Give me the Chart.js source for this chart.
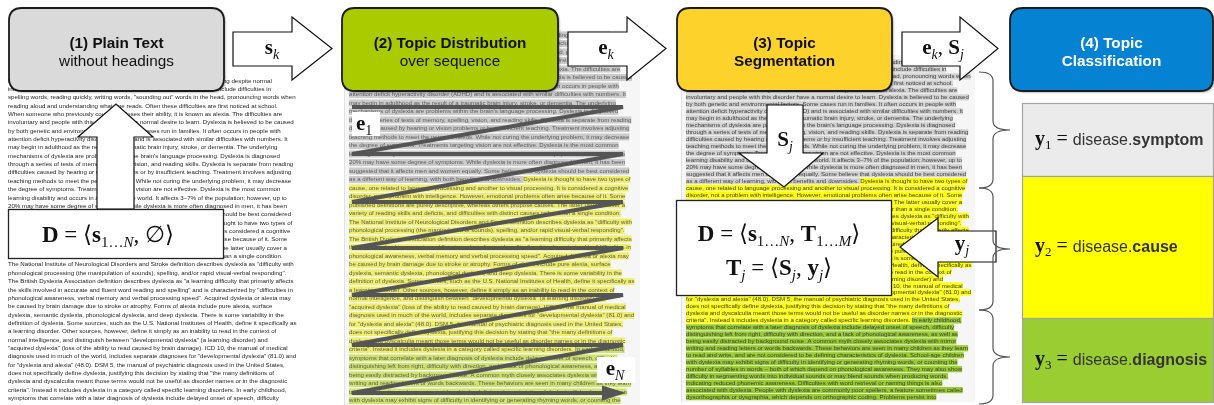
<!DOCTYPE html>
<html>
<head>
<meta charset="utf-8">
<title>Topic pipeline</title>
<script src="https://cdn.jsdelivr.net/npm/chart.js"></script>
<style>
  html, body { margin: 0; padding: 0; background: #fff; }
  #wrap { width: 1214px; height: 405px; }
</style>
</head>
<body>
<div id="wrap"><canvas id="diagram" width="1214" height="405"></canvas></div>
<script>
// stage headings
const stageTitles = ['(1) Plain Text', '(2) Topic Distribution', '(3) Topic', '(4) Topic'];
const stageSubtitles = ['without headings', 'over sequence', 'Segmentation', 'Classification'];
const stageSubBold = [false, false, true, true];
const stageColors = ['#dadada', '#a9cb00', '#fdd22a', '#0583d2'];
const stageTextColors = ['#111', '#111', '#111', '#fff'];

// topic classes, one per segment
const topicNames = ['symptom', 'cause', 'diagnosis'];
const topicColors = ['#ebebeb', '#ffff00', '#9acd32'];
const topicHighlight = ['#d4d4d4', '#ffff00', '#9acd32'];
const topicHighlightFaded = ['#cbcbcb', '#f0ef6a', '#cfe26c'];

// document, one entry per line, '|' = start of next segment
const docLines = [
  'Dyslexia, also known as reading disorder, is characterized by trouble with reading despite normal',
  'intelligence. Different people are affected to varying degrees. Problems may include difficulties in',
  'spelling words, reading quickly, writing words, "sounding out" words in the head, pronouncing words when',
  'reading aloud and understanding what one reads. Often these difficulties are first noticed at school.',
  'When someone who previously could read loses their ability, it is known as alexia. The difficulties are',
  'involuntary and people with this disorder have a normal desire to learn. Dyslexia is believed to be caused',
  'by both genetic and environmental factors. Some cases run in families. It often occurs in people with',
  'attention deficit hyperactivity disorder (ADHD) and is associated with similar difficulties with numbers. It',
  'may begin in adulthood as the result of a traumatic brain injury, stroke, or dementia. The underlying',
  'mechanisms of dyslexia are problems within the brain\'s language processing. Dyslexia is diagnosed',
  'through a series of tests of memory, spelling, vision, and reading skills. Dyslexia is separate from reading',
  'difficulties caused by hearing or vision problems or by insufficient teaching. Treatment involves adjusting',
  'teaching methods to meet the person\'s needs. While not curing the underlying problem, it may decrease',
  'the degree of symptoms. Treatments targeting vision are not effective. Dyslexia is the most common',
  'learning disability and occurs in all areas of the world. It affects 3–7% of the population; however, up to',
  '20% may have some degree of symptoms. While dyslexia is more often diagnosed in men, it has been',
  'suggested that it affects men and women equally. Some believe that dyslexia should be best considered',
  'as a different way of learning, with both benefits and downsides. |Dyslexia is thought to have two types of',
  'cause, one related to language processing and another to visual processing. It is considered a cognitive',
  'disorder, not a problem with intelligence. However, emotional problems often arise because of it. Some',
  'published definitions are purely descriptive, whereas others propose causes. The latter usually cover a',
  'variety of reading skills and deficits, and difficulties with distinct causes rather than a single condition.',
  'The National Institute of Neurological Disorders and Stroke definition describes dyslexia as "difficulty with',
  'phonological processing (the manipulation of sounds), spelling, and/or rapid visual-verbal responding".',
  'The British Dyslexia Association definition describes dyslexia as "a learning difficulty that primarily affects',
  'the skills involved in accurate and fluent word reading and spelling" and is characterized by "difficulties in',
  'phonological awareness, verbal memory and verbal processing speed". Acquired dyslexia or alexia may',
  'be caused by brain damage due to stroke or atrophy. Forms of alexia include pure alexia, surface',
  'dyslexia, semantic dyslexia, phonological dyslexia, and deep dyslexia. There is some variability in the',
  'definition of dyslexia. Some sources, such as the U.S. National Institutes of Health, define it specifically as',
  'a learning disorder. Other sources, however, define it simply as an inability to read in the context of',
  'normal intelligence, and distinguish between "developmental dyslexia" (a learning disorder) and',
  '"acquired dyslexia" (loss of the ability to read caused by brain damage). ICD 10, the manual of medical',
  'diagnosis used in much of the world, includes separate diagnoses for "developmental dyslexia" (81.0) and',
  'for "dyslexia and alexia" (48.0). DSM 5, the manual of psychiatric diagnosis used in the United States,',
  'does not specifically define dyslexia, justifying this decision by stating that "the many definitions of',
  'dyslexia and dyscalculia meant those terms would not be useful as disorder names or in the diagnostic',
  'criteria". Instead it includes dyslexia in a category called specific learning disorders. |In early childhood,',
  'symptoms that correlate with a later diagnosis of dyslexia include delayed onset of speech, difficulty',
  'distinguishing left from right, difficulty with direction, and a lack of phonological awareness, as well as',
  'being easily distracted by background noise. A common myth closely associates dyslexia with mirror',
  'writing and reading letters or words backwards. These behaviors are seen in many children as they learn',
  'to read and write, and are not considered to be defining characteristics of dyslexia. School-age children',
  'with dyslexia may exhibit signs of difficulty in identifying or generating rhyming words, or counting the',
  'number of syllables in words – both of which depend on phonological awareness. They may also show',
  'difficulty in segmenting words into individual sounds or may blend sounds when producing words,',
  'indicating reduced phonemic awareness. Difficulties with word retrieval or naming things is also',
  'associated with dyslexia. People with dyslexia are commonly poor spellers, a feature sometimes called',
  'dysorthographia or dysgraphia, which depends on orthographic coding. Problems persist into'
];

// reading order rows of the zigzag in panel 2 (y of each sweep)
const readingRows = [107, 154, 202, 248, 295, 345, 393];
const readingLeft = 352, readingRight = 604;

// segment braces and class boxes (y ranges)
const braceSpans = [[72, 188], [188, 310], [310, 404]];
const classBoxes = [[103, 176], [176, 318], [318, 402]];

const SERIF = '"Liberation Serif", "DejaVu Serif", serif';
const SANS = '"Liberation Sans", Arial, sans-serif';
const BIG = 'bold 23px ' + SERIF;
const REG = '23px ' + SERIF;
const SUBI = 'italic 15px ' + SERIF;

// bold vector symbol with subscript
function vec(letter, sub, italic, size) {
  size = size || 21;
  const s = Math.round(size * 0.66);
  return [
    { t: letter, f: 'bold ' + size + 'px ' + SERIF },
    { t: sub, f: (italic ? 'italic ' : '') + s + 'px ' + SERIF, dy: size * 0.22 }
  ];
}

function runsWidth(ctx, runs) {
  let w = 0;
  runs.forEach(r => { ctx.font = r.f; w += ctx.measureText(r.t).width; });
  return w;
}

function drawRuns(ctx, runs, x, y, align, color) {
  let cx = align === 'center' ? x - runsWidth(ctx, runs) / 2 : x;
  ctx.textBaseline = 'alphabetic';
  ctx.textAlign = 'left';
  runs.forEach(r => {
    ctx.font = r.f;
    ctx.fillStyle = r.c || color || '#111';
    ctx.fillText(r.t, cx, y + (r.dy || 0));
    cx += ctx.measureText(r.t).width;
  });
}

function roundRect(ctx, x, y, w, h, r) {
  ctx.beginPath();
  ctx.moveTo(x + r, y);
  ctx.lineTo(x + w - r, y);
  ctx.quadraticCurveTo(x + w, y, x + w, y + r);
  ctx.lineTo(x + w, y + h - r);
  ctx.quadraticCurveTo(x + w, y + h, x + w - r, y + h);
  ctx.lineTo(x + r, y + h);
  ctx.quadraticCurveTo(x, y + h, x, y + h - r);
  ctx.lineTo(x, y + r);
  ctx.quadraticCurveTo(x, y, x + r, y);
  ctx.closePath();
}

function polygon(ctx, pts) {
  ctx.beginPath();
  pts.forEach((p, i) => i ? ctx.lineTo(p[0], p[1]) : ctx.moveTo(p[0], p[1]));
  ctx.closePath();
  ctx.fillStyle = '#fff';
  ctx.fill();
  ctx.strokeStyle = '#111';
  ctx.lineWidth = 1.2;
  ctx.stroke();
}

const diagramPlugin = {
  id: 'diagram',
  beforeDatasetsDraw(chart) {
    const ctx = chart.ctx;
    const X = v => chart.scales.x.getPixelForValue(v);
    const Y = v => chart.scales.y.getPixelForValue(v);
    ctx.save();
    ctx.fillStyle = '#fff';
    ctx.fillRect(0, 0, chart.width, chart.height);

    // faint frames behind panel 2 and 3 text
    ctx.fillStyle = '#f6f6f6';
    ctx.fillRect(X(344), Y(30), X(640) - X(344), Y(405) - Y(30));
    ctx.fillRect(X(681), Y(55), X(975) - X(681), Y(402) - Y(55));
    ctx.strokeStyle = '#dde2e8';
    ctx.lineWidth = 1;
    ctx.beginPath();
    ctx.moveTo(X(344.5), Y(30)); ctx.lineTo(X(344.5), Y(405));
    ctx.moveTo(X(681.5), Y(55)); ctx.lineTo(X(681.5), Y(402));
    ctx.stroke();

    const drawDoc = (x0, y0, step, width, opts) => {
      ctx.font = '10px ' + SANS;
      const size = 10 * width / ctx.measureText(docLines[5]).width;
      ctx.font = (opts.weight || '') + ' ' + size.toFixed(2) + 'px ' + SANS;
      ctx.textBaseline = 'middle';
      ctx.textAlign = 'left';
      let seg = 0;
      docLines.forEach((line, i) => {
        const y = Y(y0 + i * step);
        if (y > chart.height + 6) return;
        let cx = X(x0);
        line.split('|').forEach((part, k) => {
          if (k > 0) seg++;
          const w = ctx.measureText(part).width;
          if (opts.hl) {
            ctx.fillStyle = opts.hl[seg];
            ctx.fillRect(cx, y - opts.h / 2, w, opts.h);
          }
          ctx.fillStyle = opts.color;
          ctx.fillText(part, cx, y + 0.3);
          cx += w;
        });
      });
    };

    // panel 1: plain text
    drawDoc(8, 80.5, 8.36, 286, { color: '#1e1e1e' });
    // panel 2: topic distribution (soft)
    ctx.save();
    ctx.filter = 'blur(0.45px)';
    drawDoc(349, 35, 8.5, 283, { color: '#5a5a5a', hl: topicHighlightFaded, h: 7 });
    ctx.restore();
    // panel 3: segmentation
    drawDoc(686, 62.5, 6.97, 283, { color: '#3a3a3a', hl: topicHighlight, h: 6.2 });
    ctx.restore();
  },
  afterDatasetsDraw(chart) {
    const ctx = chart.ctx;
    const X = v => chart.scales.x.getPixelForValue(v);
    const Y = v => chart.scales.y.getPixelForValue(v);
    ctx.save();

    // arrowhead at end of reading order
    const lastRow = readingRows[readingRows.length - 1];
    ctx.fillStyle = '#555';
    ctx.beginPath();
    ctx.moveTo(X(readingRight - 2), Y(lastRow - 7.5));
    ctx.lineTo(X(readingRight + 22), Y(lastRow));
    ctx.lineTo(X(readingRight - 2), Y(lastRow + 7.5));
    ctx.closePath();
    ctx.fill();

    // e1 / eN labels
    ctx.fillStyle = '#fff';
    ctx.fillRect(X(352), Y(112), 28, 24);
    ctx.fillRect(X(597), Y(357), 38, 26);
    drawRuns(ctx, vec('e', '1', false), X(356), Y(130), 'left');
    drawRuns(ctx, vec('e', 'N', true), X(615), Y(375), 'center');

    // stage headings
    const heads = [[9, 224], [342, 558], [677, 892], [1010, 1213]];
    heads.forEach((h, i) => {
      const x = X(h[0]), y = Y(8), w = X(h[1]) - X(h[0]), hh = Y(91) - Y(8);
      ctx.save();
      ctx.shadowColor = 'rgba(0,0,0,0.35)';
      ctx.shadowOffsetX = 1.5;
      ctx.shadowOffsetY = 1.5;
      ctx.shadowBlur = 2;
      roundRect(ctx, x, y, w, hh, 13);
      ctx.fillStyle = stageColors[i];
      ctx.fill();
      ctx.restore();
      roundRect(ctx, x, y, w, hh, 13);
      ctx.strokeStyle = '#1a1a1a';
      ctx.lineWidth = 1.8;
      ctx.stroke();
      const cx = x + w / 2;
      ctx.fillStyle = stageTextColors[i];
      ctx.textAlign = 'center';
      ctx.textBaseline = 'middle';
      ctx.font = 'bold 15.3px ' + SANS;
      ctx.fillText(stageTitles[i], cx, Y(43.5));
      ctx.font = (stageSubBold[i] ? 'bold ' : '') + '15.3px ' + SANS;
      ctx.fillText(stageSubtitles[i], cx, Y(61.5));
    });

    // right-pointing block arrows between stages
    const rightArrows = [[233, 292, 332], [568, 627, 666], [902, 960, 998]];
    rightArrows.forEach(a => {
      polygon(ctx, [[X(a[0]), Y(32)], [X(a[1]), Y(32)], [X(a[1]), Y(17)], [X(a[2]), Y(48.5)],
        [X(a[1]), Y(80)], [X(a[1]), Y(66)], [X(a[0]), Y(66)]]);
    });
    drawRuns(ctx, vec('s', 'k', true), X(272), Y(54), 'center');
    drawRuns(ctx, vec('e', 'k', true), X(606), Y(54), 'center');
    drawRuns(ctx, [].concat(vec('e', 'k', true), [{ t: ', ', f: '21px ' + SERIF }], vec('S', 'j', true)), X(943), Y(54), 'center');

    // panel 1: up arrow and D box
    polygon(ctx, [[X(97), Y(209)], [X(97), Y(137)], [X(78), Y(137)], [X(116), Y(104)],
      [X(153), Y(137)], [X(134), Y(137)], [X(134), Y(209)]]);
    ctx.fillStyle = '#fff';
    ctx.fillRect(X(8), Y(209), X(223) - X(8), Y(258) - Y(209));
    ctx.strokeStyle = '#222';
    ctx.lineWidth = 1.3;
    ctx.strokeRect(X(8) + 0.5, Y(209) + 0.5, X(223) - X(8), Y(258) - Y(209));
    drawRuns(ctx, [{ t: 'D', f: BIG }, { t: ' = \u27E8', f: REG }].concat(vec('s', '1\u2026', false, 23),
      [{ t: 'N', f: SUBI, dy: 5 }, { t: ', \u2205\u27E9', f: REG }]), X(108), Y(242), 'center');

    // panel 3: down arrow S_j
    polygon(ctx, [[X(767), Y(105)], [X(803), Y(105)], [X(803), Y(153)], [X(823), Y(153)],
      [X(784), Y(187)], [X(739), Y(153)], [X(767), Y(153)]]);
    drawRuns(ctx, vec('S', 'j', true), X(785), Y(146), 'center');

    // panel 3: D / T box
    ctx.fillStyle = '#fff';
    ctx.fillRect(X(676), Y(200), X(891) - X(676), Y(295) - Y(200));
    ctx.strokeStyle = '#222';
    ctx.lineWidth = 1.3;
    ctx.strokeRect(X(676) + 0.5, Y(200) + 0.5, X(891) - X(676), Y(295) - Y(200));
    drawRuns(ctx, [{ t: 'D', f: BIG }, { t: ' = \u27E8', f: REG }].concat(vec('s', '1\u2026', false, 23),
      [{ t: 'N', f: SUBI, dy: 5 }, { t: ', ', f: REG }], vec('T', '1\u2026', false, 23),
      [{ t: 'M', f: SUBI, dy: 5 }, { t: '\u27E9', f: REG }]), X(779), Y(241), 'center');
    drawRuns(ctx, vec('T', 'j', true, 23).concat([{ t: ' = \u27E8', f: REG }], vec('S', 'j', true, 23),
      [{ t: ', ', f: REG }], vec('y', 'j', true, 23), [{ t: '\u27E9', f: REG }]), X(779), Y(275), 'center');

    // left arrow y_j
    polygon(ctx, [[X(996), Y(231)], [X(938), Y(231)], [X(938), Y(218)], [X(900), Y(247)],
      [X(938), Y(277)], [X(938), Y(262)], [X(996), Y(262)]]);
    drawRuns(ctx, vec('y', 'j', true), X(962), Y(250), 'center');

    // braces
    ctx.strokeStyle = '#555';
    ctx.lineWidth = 1.2;
    braceSpans.forEach(s => {
      const t = Y(s[0]), b = Y(s[1]), m = (t + b) / 2;
      const x0 = X(979), xs = X(993), xt = X(1010), r = 9;
      ctx.beginPath();
      ctx.moveTo(x0, t);
      ctx.quadraticCurveTo(xs, t, xs, t + r);
      ctx.lineTo(xs, m - r);
      ctx.quadraticCurveTo(xs, m, xt, m);
      ctx.quadraticCurveTo(xs, m, xs, m + r);
      ctx.lineTo(xs, b - r);
      ctx.quadraticCurveTo(xs, b, x0, b);
      ctx.stroke();
    });

    // class boxes
    classBoxes.forEach((c, i) => {
      const x = X(1022), y = Y(c[0]), w = X(1213) - X(1022), h = Y(c[1]) - Y(c[0]);
      ctx.fillStyle = topicColors[i];
      ctx.fillRect(x, y, w, h);
      ctx.strokeStyle = '#a3a3a3';
      ctx.lineWidth = 1.2;
      ctx.strokeRect(x + 0.5, y + 0.5, w, h);
      const runs = vec('y', String(i + 1), false, 20).concat([
        { t: ' = ', f: '20px ' + SERIF },
        { t: 'disease.', f: '16px ' + SANS, c: '#333' },
        { t: topicNames[i], f: 'bold 16px ' + SANS, c: '#333' }
      ]);
      drawRuns(ctx, runs, X(1035), y + h / 2 + 5, 'left');
    });
    ctx.restore();
  }
};

// zigzag reading order: each row swept left to right, then back to the next row
const zigzag = [];
readingRows.forEach(r => {
  zigzag.push({ x: readingLeft, y: r });
  zigzag.push({ x: readingRight + 19, y: r });
});
zigzag[zigzag.length - 1].x = readingRight;

new Chart(document.getElementById('diagram'), {
  type: 'scatter',
  data: {
    datasets: [{
      data: zigzag,
      showLine: true,
      borderColor: '#555',
      borderWidth: 4,
      pointRadius: 0,
      tension: 0
    }]
  },
  options: {
    responsive: false,
    animation: false,
    devicePixelRatio: 1,
    layout: { padding: 0 },
    scales: {
      x: { type: 'linear', min: 0, max: 1214, display: false },
      y: { type: 'linear', min: 0, max: 405, reverse: true, display: false }
    },
    plugins: { legend: { display: false }, tooltip: { enabled: false } }
  },
  plugins: [diagramPlugin]
});
</script>
</body>
</html>
